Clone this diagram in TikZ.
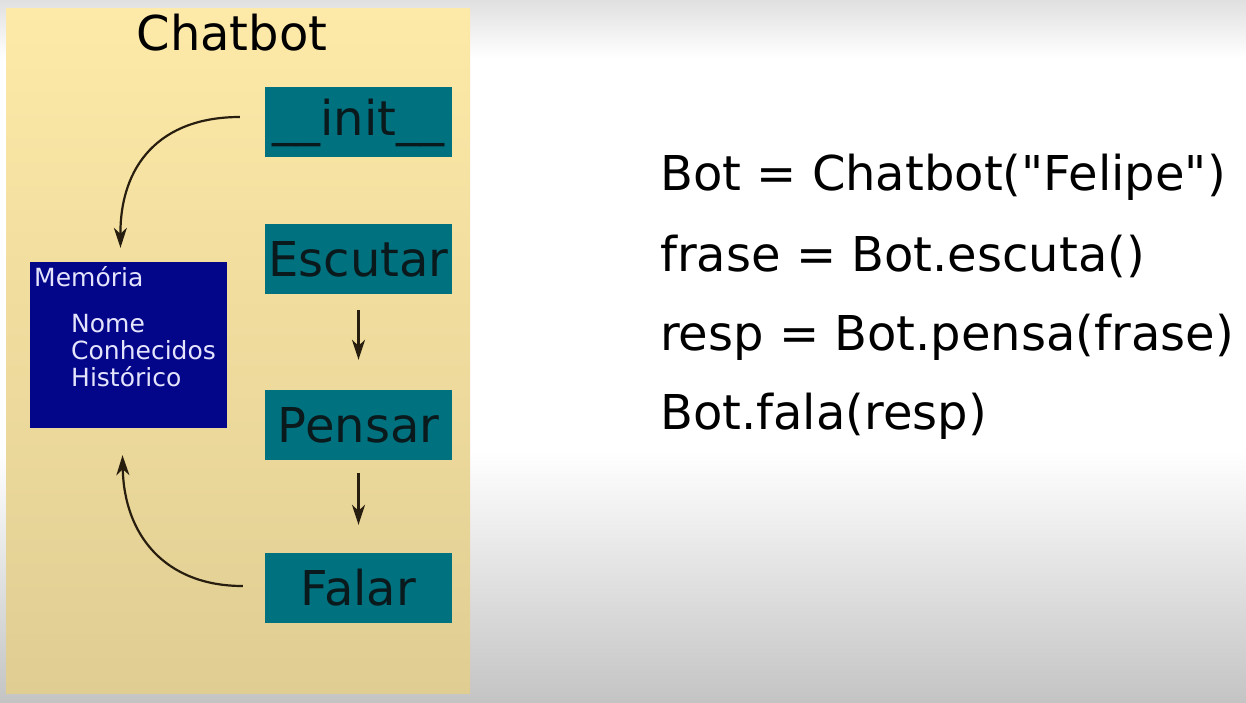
\documentclass[tikz,border=0pt]{standalone}
\usepackage{fontspec}
\setmainfont{DejaVu Sans}[Ligatures=TeXOff]
\usetikzlibrary{arrows.meta}
\definecolor{panelTop}{RGB}{253,234,168}
\definecolor{panelBot}{RGB}{224,205,146}
\definecolor{boxteal}{RGB}{0,113,127}
\definecolor{memblue}{RGB}{4,6,138}
\definecolor{memtext}{RGB}{228,228,252}
\definecolor{boxtext}{RGB}{10,25,28}
\definecolor{arrowcol}{RGB}{40,30,15}
\definecolor{bgtop}{RGB}{224,224,224}
\definecolor{bgbot}{RGB}{196,196,196}
\tikzset{
  stepbox/.style={fill=boxteal, inner sep=0pt, minimum width=187pt, text width=187pt, align=center,
    text height=52pt, text depth=18pt, font=\fontsize{48}{58}\selectfont, text=boxtext},
  memline/.style={anchor=base west, inner sep=0pt, font=\fontsize{25}{30}\selectfont, text=memtext},
  codeline/.style={anchor=base west, inner sep=0pt, font=\fontsize{48}{58}\selectfont, text=black},
  conn/.style={draw=arrowcol, line width=2.2pt, -{Stealth[length=20pt,width=13pt,inset=6pt]}}
}
\begin{document}
\begin{tikzpicture}[x=1pt,y=-1pt]
\useasboundingbox (0,0) rectangle (1246,702);
% background
\fill[white] (0,0) rectangle (1246,702);
\shade[top color=bgtop, bottom color=white] (0,0) rectangle (1246,58);
\shade[top color=white, bottom color=bgbot] (0,450) rectangle (1246,702);
% panel
\shade[top color=panelTop, bottom color=panelBot] (6,8) rectangle (470,693);
\node[anchor=base, inner sep=0pt, font=\fontsize{48}{58}\selectfont, text=black] (title) at (232,50) {Chatbot};
% step boxes
\node[stepbox, text height=48pt, text depth=22pt] (init) at (358.5,122) {\_\_init\_\_};
\node[stepbox] (esc) at (358.5,259) {Escutar};
\node[stepbox] (pen) at (358.5,425) {Pensar};
\node[stepbox] (fal) at (358.5,588) {Falar};
% memory box
\node[fill=memblue, inner sep=0pt, minimum width=197pt, minimum height=166pt] (mem) at (128.5,345) {};
\node[memline] (memtitle) at (34,286) {Memória};
\node[memline] (nome) at (71,332) {Nome};
\node[memline] (conh) at (71,359) {Conhecidos};
\node[memline] (hist) at (71,386) {Histórico};
% connectors
\coordinate (initout) at ([shift={(-25,-5)}]init.west);
\coordinate (memin) at ([shift={(-8,-14)}]mem.north);
\draw[conn] (initout) .. controls (160,117) and (120,165) .. (memin);
\coordinate (falout) at ([shift={(-22,-2)}]fal.west);
\coordinate (memout) at ([shift={(-6,27)}]mem.south);
\draw[conn] (falout) .. controls (165,586) and (124,535) .. (memout);
\draw[conn, shorten <=16pt, shorten >=30pt] (esc) -- (pen);
\draw[conn, shorten <=13pt, shorten >=28pt] (pen) -- (fal);
% code
\node[codeline] (c1) at (660,190) {Bot = Chatbot("Felipe")};
\node[codeline] (c2) at (660,271) {frase = Bot.escuta()};
\node[codeline] (c3) at (660,350) {resp = Bot.pensa(frase)};
\node[codeline] (c4) at (660,429) {Bot.fala(resp)};
\end{tikzpicture}
\end{document}
